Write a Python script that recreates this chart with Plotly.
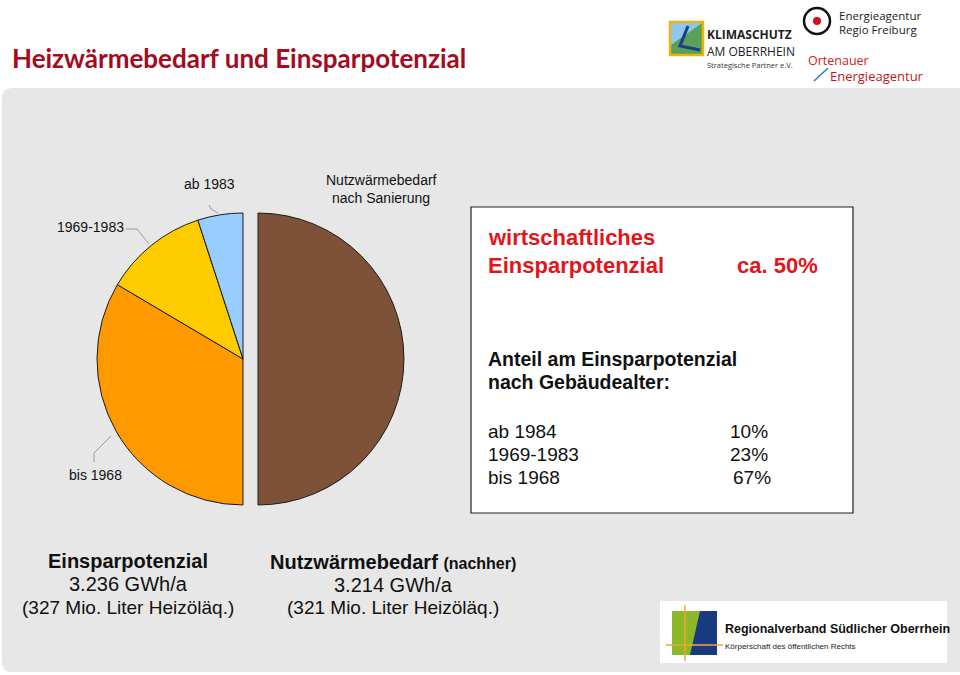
import plotly.graph_objects as go

W, H = 960, 675

# ---------------- data ----------------
title_text = "Heizwärmebedarf und Einsparpotenzial"
after_label = "Nutzwärmebedarf nach Sanierung"
after_share = 50          # % remaining after renovation
saving_share = 50         # % economic saving potential (ca. 50%)
age_groups = ["bis 1968", "1969-1983", "ab 1983"]
age_share_pct = [67, 23, 10]          # share of saving potential by building age
table_groups = ["ab 1984", "1969-1983", "bis 1968"]
table_pct = ["10%", "23%", "67%"]
slice_colors = ["#7e5239", "#ff9900", "#ffcc00", "#99ccff"]
bottom_left = ["Einsparpotenzial", "3.236 GWh/a", "(327 Mio. Liter Heizöläq.)"]
bottom_right = ["Nutzwärmebedarf", "(nachher)", "3.214 GWh/a", "(321 Mio. Liter Heizöläq.)"]

pie_labels = [after_label] + age_groups
pie_values = [after_share] + [saving_share * p / 100 for p in age_share_pct]


def px(x):
    return x / W


def py(y):
    return 1 - y / H


# pie geometry (pixels)
cx, cy, r, pull_px = 243, 359, 146, 15
pull = pull_px / r
half = r * (1 + pull)

fig = go.Figure(go.Pie(
    labels=pie_labels,
    values=pie_values,
    sort=False,
    direction="clockwise",
    rotation=0,
    pull=[pull, 0, 0, 0],
    marker=dict(colors=slice_colors, line=dict(color="#1a1a1a", width=1)),
    textinfo="none",
    hoverinfo="label+value",
    showlegend=False,
    domain=dict(x=[px(cx - half), px(cx + half)], y=[py(cy + half), py(cy - half)]),
))

shapes = []
# grey panel with rounded corners
x0, x1, y0, y1, rr = px(2), px(975), py(672), py(88), 10
rx, ry = rr / W, rr / H
panel = (f"M {x0+rx},{y1} L {x1},{y1} L {x1},{y0} L {x0+rx},{y0} "
         f"Q {x0},{y0} {x0},{y0+ry} L {x0},{y1-ry} Q {x0},{y1} {x0+rx},{y1} Z")
shapes.append(dict(type="path", path=panel, xref="paper", yref="paper",
                   fillcolor="#e7e7e7", line=dict(width=0), layer="below"))
# text box
shapes.append(dict(type="rect", xref="paper", yref="paper", x0=px(471), x1=px(853),
                   y0=py(513), y1=py(207), fillcolor="white",
                   line=dict(color="#222", width=1.2), layer="below"))
# leader lines
for pts in [[(209, 205), (211, 209), (218, 213)],
            [(126, 229), (137, 229), (149, 244)],
            [(94, 462), (94, 453), (111, 436)]]:
    path = "M " + " L ".join(f"{px(a)},{py(b)}" for a, b in pts)
    shapes.append(dict(type="path", path=path, xref="paper", yref="paper",
                       line=dict(color="#9a9a9a", width=1)))

# logos (simplified)
shapes.append(dict(type="rect", xref="paper", yref="paper", x0=px(670), x1=px(703),
                   y0=py(55), y1=py(22), fillcolor="#5aa05a", line=dict(color="#f0b400", width=2.5)))
shapes.append(dict(type="path", xref="paper", yref="paper",
                   path=f"M {px(671)},{py(23)} L {px(702)},{py(23)} L {px(671)},{py(45)} Z",
                   fillcolor="#8ec8e8", line=dict(width=0)))
shapes.append(dict(type="path", xref="paper", yref="paper",
                   path=f"M {px(688)},{py(26)} L {px(680)},{py(46)} L {px(700)},{py(50)}",
                   line=dict(color="#1a3f8a", width=3)))
shapes.append(dict(type="circle", xref="paper", yref="paper", x0=px(804), x1=px(830),
                   y0=py(34), y1=py(8), line=dict(color="#111", width=2.5)))
shapes.append(dict(type="circle", xref="paper", yref="paper", x0=px(813), x1=px(821),
                   y0=py(25), y1=py(17), fillcolor="#d0101a", line=dict(width=0)))
shapes.append(dict(type="line", xref="paper", yref="paper", x0=px(814), x1=px(828),
                   y0=py(81), y1=py(68), line=dict(color="#2a7ac0", width=1.5)))
shapes.append(dict(type="rect", xref="paper", yref="paper", x0=px(660), x1=px(947),
                   y0=py(663), y1=py(601), fillcolor="white", line=dict(width=0)))
shapes.append(dict(type="rect", xref="paper", yref="paper", x0=px(672), x1=px(717),
                   y0=py(655), y1=py(611), fillcolor="#1a3a80", line=dict(width=0)))
shapes.append(dict(type="path", xref="paper", yref="paper",
                   path=f"M {px(672)},{py(611)} L {px(700)},{py(611)} L {px(690)},{py(655)} L {px(672)},{py(655)} Z",
                   fillcolor="#8cb82a", line=dict(width=0)))
shapes.append(dict(type="line", xref="paper", yref="paper", x0=px(666), x1=px(723),
                   y0=py(645), y1=py(645), line=dict(color="#f0a830", width=1.5)))
shapes.append(dict(type="line", xref="paper", yref="paper", x0=px(685), x1=px(685),
                   y0=py(605), y1=py(661), line=dict(color="#f0a830", width=1.5)))

ann = []


def T(x, y, text, size=12, color="#111", bold=False, xa="left", family="Liberation Sans, Arial, sans-serif"):
    t = f"<b>{text}</b>" if bold else text
    ann.append(dict(x=px(x), y=py(y), xref="paper", yref="paper", text=t, showarrow=False,
                    xanchor=xa, yanchor="middle", borderpad=0,
                    font=dict(size=size, color=color, family=family)))


# title
T(11, 58, title_text, size=26, color="#a50a1e", bold=True, family="Lato, Open Sans, sans-serif")

# pie labels
T(209, 184, age_groups[2], size=14, xa="center")
T(125, 227, age_groups[1], size=14, xa="right")
T(95, 475, age_groups[0], size=14, xa="center")
T(381, 180, "Nutzwärmebedarf", size=14, xa="center")
T(381, 198, "nach Sanierung", size=14, xa="center")

# text box contents
red = "#e4141c"
T(487, 237, "wirtschaftliches", size=22, color=red, bold=True)
T(487, 265, "Einsparpotenzial", size=22, color=red, bold=True)
T(819, 265, f"ca. {saving_share}%", size=22, color=red, bold=True, xa="right")
T(487, 359, "Anteil am Einsparpotenzial", size=19.5, bold=True)
T(487, 382, "nach Gebäudealter:", size=19.5, bold=True)
for i, (g, p) in enumerate(zip(table_groups, table_pct)):
    yy = 431 + i * 23
    T(487, yy, g, size=19)
    T(769 + (3 if i == 2 else 0), yy, p, size=19, xa="right")

# bottom statistics
nf = "Liberation Sans Narrow, Arial Narrow, Liberation Sans, sans-serif"
T(128, 561, bottom_left[0], size=20, bold=True, xa="center", family=nf)
T(128, 584, bottom_left[1], size=20, xa="center", family=nf)
T(128, 607, bottom_left[2], size=19, xa="center", family=nf)
T(393, 562, f"<b>{bottom_right[0]}</b> <b><span style='font-size:16px'>{bottom_right[1]}</span></b>",
  size=20, xa="center", family=nf)
T(393, 585, bottom_right[2], size=20, xa="center", family=nf)
T(393, 607, bottom_right[3], size=19, xa="center", family=nf)

# logo texts
lf = "Open Sans, sans-serif"
T(706, 35, "KLIMASCHUTZ", size=12, bold=True, color="#222", family=lf)
T(706, 52, "AM OBERRHEIN", size=12, color="#222", family=lf)
T(706, 65, "Strategische Partner e.V.", size=7.5, color="#333", family=lf)
T(838, 15, "Energieagentur", size=11.5, color="#222", family=lf)
T(838, 30, "Regio Freiburg", size=11.5, color="#222", family=lf)
T(807, 60, "Ortenauer", size=12.5, color="#d42020", family=lf)
T(829, 76.5, "Energieagentur", size=13, color="#c01818", family=lf)
T(724, 629, "Regionalverband Südlicher Oberrhein", size=12.5, bold=True, color="#111", family=nf)
T(724, 646, "Körperschaft des öffentlichen Rechts", size=8, color="#222")

fig.update_layout(
    width=W, height=H,
    margin=dict(l=0, r=0, t=0, b=0),
    paper_bgcolor="white",
    plot_bgcolor="white",
    shapes=shapes,
    annotations=ann,
    font=dict(family="Liberation Sans, Arial, sans-serif"),
)

fig.write_html("out.html")
